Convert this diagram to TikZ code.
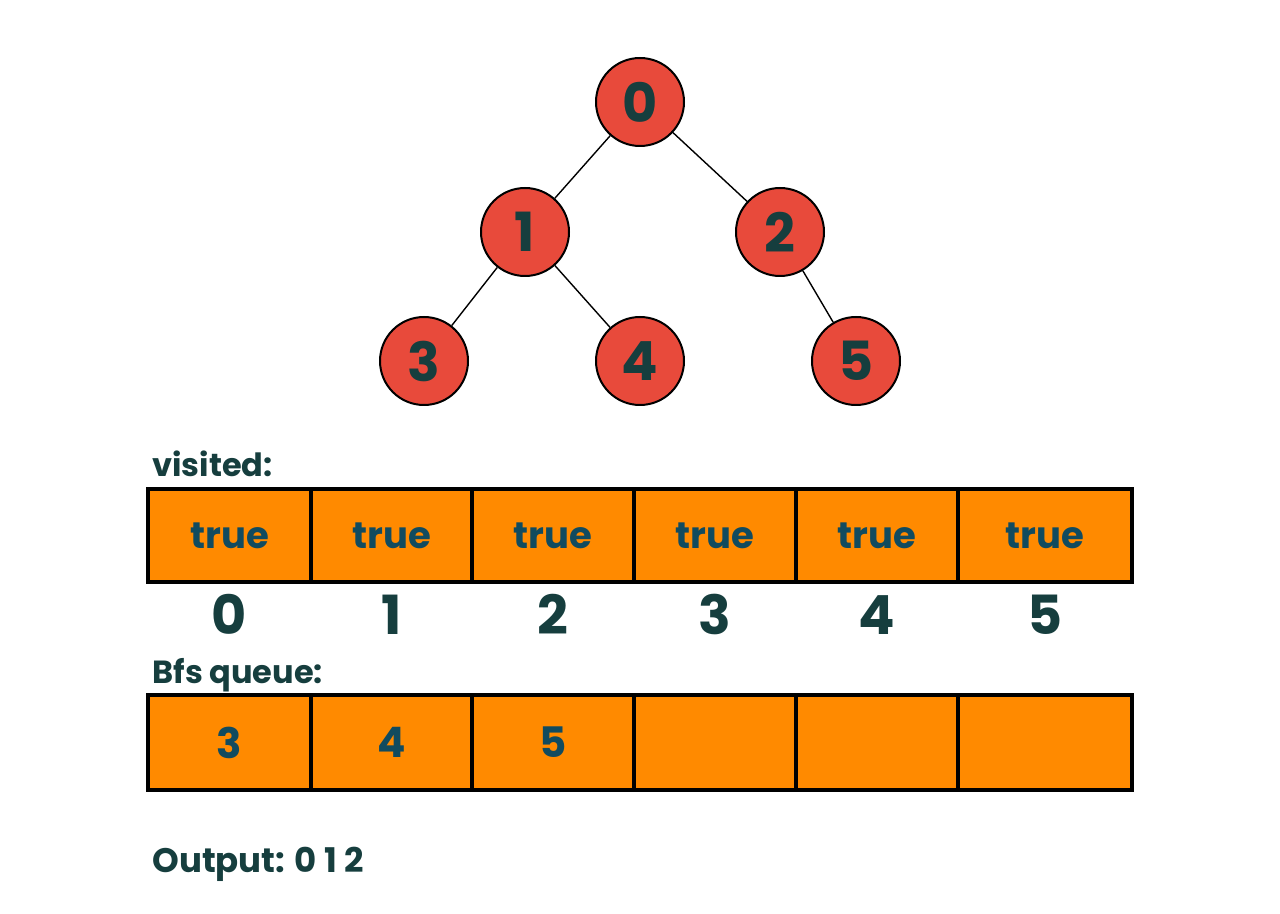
\documentclass[tikz,border=0pt]{standalone}
\usepackage{fontspec}
\setmainfont{Poppins}
\usetikzlibrary{positioning}
\definecolor{NodeRed}{HTML}{E84A3B}
\definecolor{CellOrange}{HTML}{FF8A00}
\definecolor{DarkTeal}{HTML}{163E3E}
\definecolor{CellText}{HTML}{114B5F}

\begin{document}
\begin{tikzpicture}[
        x=0.5pt, y=-0.5pt,
        vertex/.style = {circle, draw=black, line width=1pt, fill=NodeRed, minimum size=44pt, inner sep=0pt, font=\fontsize{27}{27}\selectfont\bfseries, text=DarkTeal},
        edge/.style = {draw, line width=0.7pt, black},
        cell/.style = {rectangle, draw=black, line width=2.2pt, fill=CellOrange, inner sep=0pt, outer sep=0pt, text=CellText, font=\fontsize{18.5}{18.5}\selectfont\bfseries},
        index/.style = {anchor=base, text=DarkTeal, font=\fontsize{27}{27}\selectfont\bfseries},
        caption/.style = {anchor=base west, inner sep=0pt, text=DarkTeal, font=\fontsize{16}{16}\selectfont\bfseries}
    ]
    \useasboundingbox (0,0) rectangle (1280,914);

    % tree
    \node [vertex] (v0) at (640,102) {0};
    \node [vertex] (v1) at (525,232) {1};
    \node [vertex] (v2) at (780,232) {2};
    \node [vertex] (v3) at (424,361) {3};
    \node [vertex] (v4) at (640,361) {4};
    \node [vertex] (v5) at (856,361) {5};

    \draw [edge] (v0) -- (v1);
    \draw [edge] (v0) -- (v2);
    \draw [edge] (v1) -- (v3);
    \draw [edge] (v1) -- (v4);
    \draw [edge] (v2) -- (v5);

    % visited array
    \node [caption] (visitedlbl) at (152,477) {visited:};
    \foreach \i/\cx/\w in {0/229.5/81.5, 1/391.5/80.5, 2/553/81, 3/715/81, 4/877/81, 5/1045/87} {
        \node [cell, minimum width=\w pt, minimum height=46.5pt] (vis\i) at (\cx,535.5) {true};
        \node [index] (idx\i) at (\cx,634) {\i};
    }

    % queue
    \node [caption] (queuelbl) at (152,683) {Bfs queue:};
    \foreach \i/\cx/\w/\t in {0/229.5/81.5/3, 1/391.5/80.5/4, 2/553/81/5, 3/715/81/, 4/877/81/, 5/1045/87/} {
        \node [cell, minimum width=\w pt, minimum height=47.5pt, font=\fontsize{21}{21}\selectfont\bfseries] (que\i) at (\cx,742.5) {\t};
    }

    \node [caption, font=\fontsize{17}{17}\selectfont\bfseries] (output) at (152,872) {Output: 0 1 2};
\end{tikzpicture}
\end{document}
